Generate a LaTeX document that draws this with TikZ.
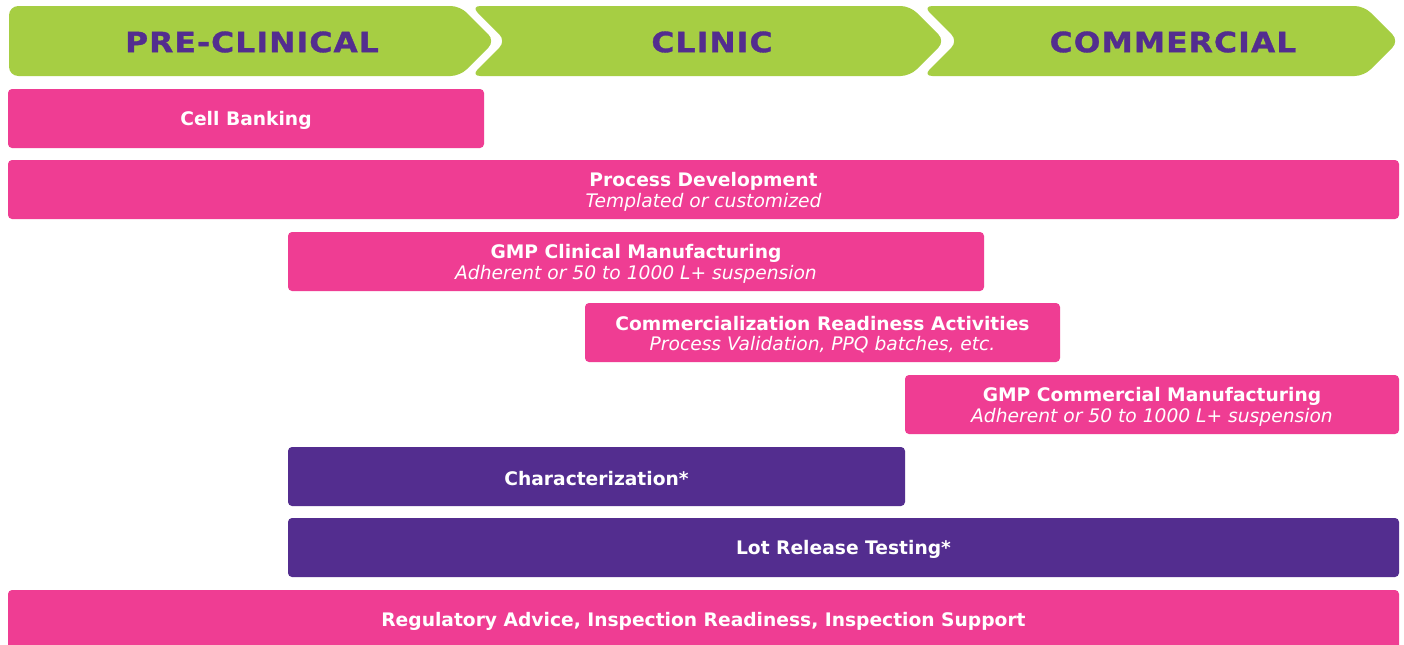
\documentclass[tikz,border=0pt]{standalone}
\usepackage{fontspec}
\setmainfont{DejaVu Sans}
\newfontfamily\phasefont[LetterSpace=4,FakeStretch=1.12,BoldFeatures={FakeBold=1.2}]{DejaVu Sans}
\definecolor{barpink}{HTML}{EF3D93}
\definecolor{barpurple}{HTML}{532D8F}
\definecolor{phasegreen}{HTML}{A6CE43}
% italic second line inside a bar
\newcommand\barsub[1]{{\mdseries\itshape #1}}
\begin{document}
\begin{tikzpicture}[x=0.75pt,y=-0.75pt,
  phase/.style={fill=phasegreen, draw=none, rounded corners=7pt},
  phasetext/.style={text=barpurple, font=\phasefont\fontsize{21}{24}\selectfont\bfseries},
  bar/.style={draw=none, rounded corners=3pt, inner sep=0pt, minimum height=0.75*59pt},
  pinkbar/.style={bar, fill=barpink},
  purplebar/.style={bar, fill=barpurple},
  bartext/.style={inner sep=0pt, text=white, align=center,
    font=\fontsize{14}{15.5}\selectfont\bfseries, yshift=-1.6pt}]
\clip (0,0) rectangle (1404,644);
\fill[white] (0,0) rectangle (1404,644);

% phase chevrons
\path[phase] (9,6) -- (460,6) -- (495,41) -- (460,76) -- (9,76) -- cycle;
\path[phase] (471,6) -- (910,6) -- (945,41) -- (910,76) -- (471,76) -- (506,41) -- cycle;
\path[phase] (923,6) -- (1364,6) -- (1399,41) -- (1364,76) -- (923,76) -- (958,41) -- cycle;
\node[phasetext] (pre) at (252,42) {PRE-CLINICAL};
\node[phasetext] (clinic) at (712,42) {CLINIC};
\node[phasetext] (comm) at (1173,42) {COMMERCIAL};

% activity bars (centre, width in px)
\node[pinkbar, minimum width=0.75*476pt] (cell) at (246,118.5) {};
\node[pinkbar, minimum width=0.75*1391pt] (procdev) at (703.5,189.5) {};
\node[pinkbar, minimum width=0.75*696pt] (gmpclin) at (636,261.5) {};
\node[pinkbar, minimum width=0.75*475pt] (ready) at (822.5,332.5) {};
\node[pinkbar, minimum width=0.75*494pt] (gmpcomm) at (1152,404.5) {};
\node[purplebar, minimum width=0.75*617pt] (charac) at (596.5,476.5) {};
\node[purplebar, minimum width=0.75*1111pt] (lot) at (843.5,547.5) {};
\node[pinkbar, minimum width=0.75*1391pt, minimum height=0.75*60pt] (reg) at (703.5,620) {};

% bar labels
\node[bartext] (cellt) at (cell.center) {Cell Banking};
\node[bartext] (procdevt) at (procdev.center) {Process Development\\\barsub{Templated or customized}};
\node[bartext] (gmpclint) at (gmpclin.center) {GMP Clinical Manufacturing\\\barsub{Adherent or 50 to 1000 L+ suspension}};
\node[bartext] (readyt) at (ready.center) {Commercialization Readiness Activities\\\barsub{Process Validation, PPQ batches, etc.}};
\node[bartext] (gmpcommt) at (gmpcomm.center) {GMP Commercial Manufacturing\\\barsub{Adherent or 50 to 1000 L+ suspension}};
\node[bartext] (charact) at (charac.center) {Characterization*};
\node[bartext] (lott) at (lot.center) {Lot Release Testing*};
\node[bartext, yshift=0.8pt] (regt) at (reg.center) {Regulatory Advice, Inspection Readiness, Inspection Support};
\end{tikzpicture}
\end{document}
